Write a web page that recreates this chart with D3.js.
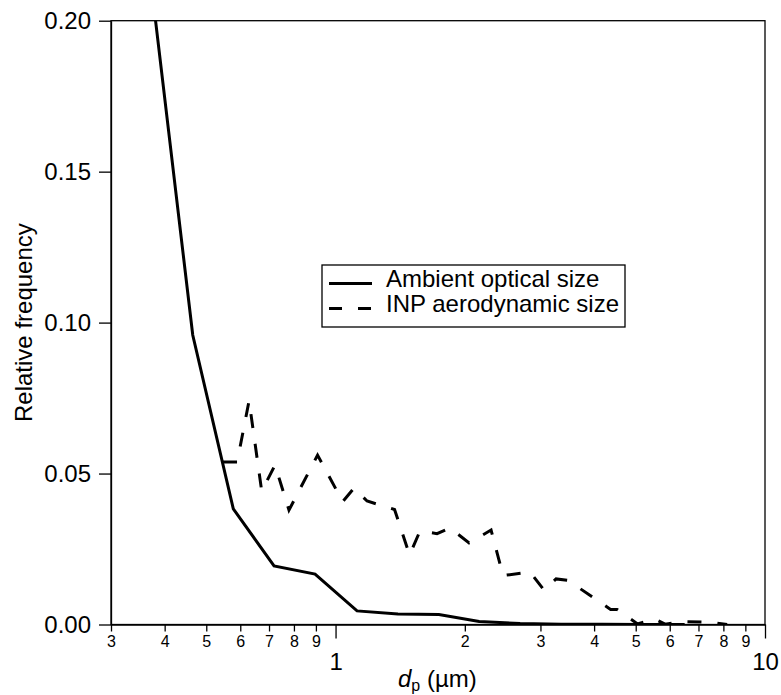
<!DOCTYPE html>
<html>
<head>
<meta charset="utf-8">
<script src="https://cdn.jsdelivr.net/npm/d3@7"></script>
<style>
  body { margin: 0; background: #fff; }
  svg text { font-family: "Liberation Sans", Arial, Helvetica, sans-serif; fill: #000; }
</style>
</head>
<body>
<svg id="chart" width="781" height="695"></svg>
<script>
// size in µm, relative frequency
const ambientSize = [0.373, 0.465, 0.578, 0.719, 0.896, 1.122, 1.397, 1.74, 2.16, 2.69, 3.35, 4.17, 5.2, 6.5];
const ambientFreq = [0.211, 0.0959, 0.0383, 0.0194, 0.0167, 0.0045, 0.0035, 0.0033, 0.0010, 0.0003, 0.0001, 0.00005, 0, 0];

const inpSize = [0.547, 0.590, 0.629, 0.673, 0.723, 0.779, 0.908, 1.039, 1.104, 1.184, 1.372, 1.487, 1.573, 1.723, 1.847,
                 2.046, 2.302, 2.455, 2.837, 3.058, 3.262, 3.480, 4.370, 4.524, 5.049, 5.547, 5.853, 6.411, 7.487, 8.163];
const inpFreq = [0.0538, 0.0538, 0.0741, 0.0442, 0.0528, 0.0379, 0.0561, 0.0407, 0.0452, 0.0409, 0.0381, 0.0230, 0.0310, 0.0301, 0.0320,
                 0.0270, 0.0313, 0.0162, 0.0174, 0.0114, 0.0151, 0.0146, 0.0050, 0.0050, 0.0002, 0.0018, 0.0001, 0.0010, 0.0007, 0];

const yTicks = [0, 0.05, 0.10, 0.15, 0.20];
const xMinorTicks = [0.3, 0.4, 0.5, 0.6, 0.7, 0.8, 0.9, 2, 3, 4, 5, 6, 7, 8, 9];
const xMajorTicks = [1, 10];

const seriesNames = ["Ambient optical size", "INP aerodynamic size"];

const margin = {top: 20.7, right: 16, bottom: 70.5, left: 111};
const width = 781, height = 695;

const svg = d3.select("#chart");

const x = d3.scaleLog()
  .domain([0.3, 10])
  .range([margin.left, width - margin.right]);

const y = d3.scaleLinear()
  .domain([0, 0.2])
  .range([height - margin.bottom, margin.top]);

svg.append("clipPath").attr("id", "plot-clip")
  .append("rect")
  .attr("x", margin.left).attr("y", margin.top)
  .attr("width", x.range()[1] - margin.left)
  .attr("height", y(0) - margin.top);

// frame
svg.append("rect")
  .attr("x", margin.left).attr("y", margin.top)
  .attr("width", x.range()[1] - margin.left)
  .attr("height", y(0) - margin.top)
  .attr("fill", "none")
  .attr("stroke", "#000")
  .attr("stroke-width", 1.3);

// y axis
svg.append("g")
  .attr("transform", `translate(${margin.left},0)`)
  .call(d3.axisLeft(y).tickValues(yTicks).tickSize(12).tickPadding(8).tickSizeOuter(0).tickFormat(d3.format(".2f")))
  .call(g => g.selectAll("text").style("font-size", "24px"))
  .call(g => g.selectAll("line,path").attr("stroke-width", 1.3));

// x axis, minor ticks with small labels
svg.append("g")
  .attr("transform", `translate(0,${y(0)})`)
  .call(d3.axisBottom(x).tickValues(xMinorTicks).tickSize(7).tickPadding(4.5).tickSizeOuter(0)
    .tickFormat(d => d < 1 ? Math.round(d * 10) : d))
  .call(g => g.selectAll("text").style("font-size", "16px"))
  .call(g => g.selectAll("line,path").attr("stroke-width", 1.3));

// x axis, decades
svg.append("g")
  .attr("transform", `translate(0,${y(0)})`)
  .call(d3.axisBottom(x).tickValues(xMajorTicks).tickSize(14).tickPadding(14.5).tickSizeOuter(0).tickFormat(d3.format("d")))
  .call(g => g.select(".domain").remove())
  .call(g => g.selectAll("text").style("font-size", "24px"))
  .call(g => g.selectAll("line").attr("stroke-width", 1.3));

// axis titles
svg.append("text")
  .attr("transform", `translate(31.5,${(y(0) + margin.top) / 2}) rotate(-90)`)
  .attr("text-anchor", "middle")
  .style("font-size", "24px")
  .text("Relative frequency");

const xt = svg.append("text")
  .attr("x", 398).attr("y", 687)
  .style("font-size", "24px");
xt.append("tspan").style("font-style", "italic").text("d");
xt.append("tspan").attr("dy", 4).style("font-size", "16px").text("p");
xt.append("tspan").attr("dy", -4).text(" (µm)");

// lines
const line = d3.line()
  .x(d => x(d[0]))
  .y(d => y(d[1]));

const plot = svg.append("g").attr("clip-path", "url(#plot-clip)");

plot.append("path")
  .datum(d3.zip(ambientSize, ambientFreq))
  .attr("d", line)
  .attr("fill", "none")
  .attr("stroke", "#000")
  .attr("stroke-width", 3);

plot.append("path")
  .datum(d3.zip(inpSize, inpFreq))
  .attr("d", line)
  .attr("fill", "none")
  .attr("stroke", "#000")
  .attr("stroke-width", 3)
  .attr("stroke-dasharray", "14,16");

// legend
const legend = svg.append("g").attr("transform", "translate(322,265)");
legend.append("rect")
  .attr("width", 303).attr("height", 62)
  .attr("fill", "#fff")
  .attr("stroke", "#000")
  .attr("stroke-width", 1.3);

legend.selectAll(".item")
  .data(seriesNames)
  .join("g")
  .attr("class", "item")
  .attr("transform", (d, i) => `translate(0,${18.5 + i * 25})`)
  .each(function(d, i) {
    const g = d3.select(this);
    g.append("line")
      .attr("x1", 7).attr("x2", 50)
      .attr("stroke", "#000")
      .attr("stroke-width", 3)
      .attr("stroke-dasharray", i === 1 ? "13,16" : null);
    g.append("text")
      .attr("x", 64).attr("y", 3.5)
      .style("font-size", "24px")
      .text(d);
  });
</script>
</body>
</html>
